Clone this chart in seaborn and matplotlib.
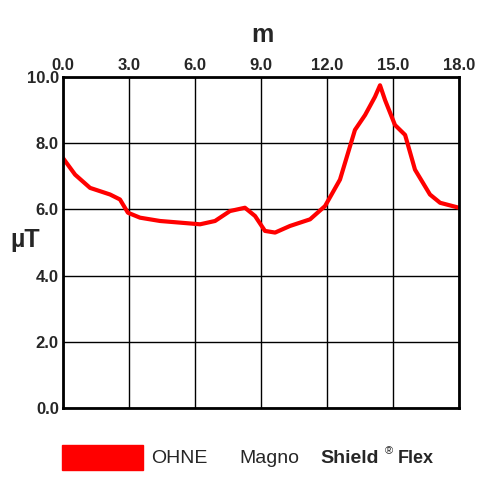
import numpy as np
import pandas as pd
import matplotlib
matplotlib.use("Agg")
import matplotlib.pyplot as plt
import seaborn as sns

distance_m = [0.0, 0.55, 1.23, 2.14, 2.59, 2.95, 3.5, 4.41, 5.32, 6.23, 6.91, 7.59, 8.27, 8.73,
              9.18, 9.64, 10.32, 11.23, 11.91, 12.59, 13.27, 13.73, 14.18, 14.41, 14.64, 15.09,
              15.55, 16.0, 16.68, 17.14, 18.0]
field_ut = [7.55, 7.05, 6.65, 6.45, 6.3, 5.9, 5.75, 5.65, 5.6, 5.55, 5.65, 5.95, 6.05, 5.8,
            5.35, 5.3, 5.5, 5.7, 6.1, 6.9, 8.4, 8.85, 9.4, 9.75, 9.3, 8.55, 8.25, 7.2, 6.45,
            6.2, 6.05]
x_ticks = [0, 3, 6, 9, 12, 15, 18]
y_ticks = [0, 2, 4, 6, 8, 10]

sns.set_style("white")
plt.rcParams['font.family'] = ['Liberation Sans', 'DejaVu Sans']

df = pd.DataFrame({'m': distance_m, 'uT': field_ut})

fig = plt.figure(figsize=(5, 5), dpi=100)
ax = fig.add_axes([0.126, 0.184, 0.792, 0.662])
sns.lineplot(data=df, x='m', y='uT', color='#ff0000', linewidth=3, ax=ax)
ax.set_xlim(0, 18)
ax.set_ylim(0, 10)
ax.set_xticks(x_ticks)
ax.set_yticks(y_ticks)
ax.set_xticklabels([f"{v:.1f}" for v in x_ticks], fontsize=12, fontweight='bold')
ax.set_yticklabels([f"{v:.1f}" for v in y_ticks], fontsize=12, fontweight='bold')
ax.xaxis.tick_top()
ax.tick_params(length=0, pad=3)
ax.grid(True, color='black', linewidth=1)
for s in ax.spines.values():
    s.set_color('black')
    s.set_linewidth(2)
ax.set_xlabel('')
ax.set_ylabel('')
fig.text(0.524, 0.93, 'm', fontsize=18, fontweight='bold', ha='center', va='center')
fig.text(0.05, 0.52, 'µT', fontsize=18, fontweight='bold', ha='center', va='center')

fig.patches.append(matplotlib.patches.Rectangle((0.124, 0.06), 0.162, 0.05, color='#ff0000',
                                                transform=fig.transFigure, figure=fig))
fig.text(0.302, 0.083, 'OHNE', fontsize=14, va='center')
fig.text(0.478, 0.083, 'Magno', fontsize=14, va='center')
fig.text(0.64, 0.083, 'Shield', fontsize=14, fontweight='bold', va='center')
fig.text(0.77, 0.098, '®', fontsize=8, va='center')
fig.text(0.795, 0.083, 'Flex', fontsize=13, fontweight='bold', va='center')

fig.savefig('out.png', dpi=100)
